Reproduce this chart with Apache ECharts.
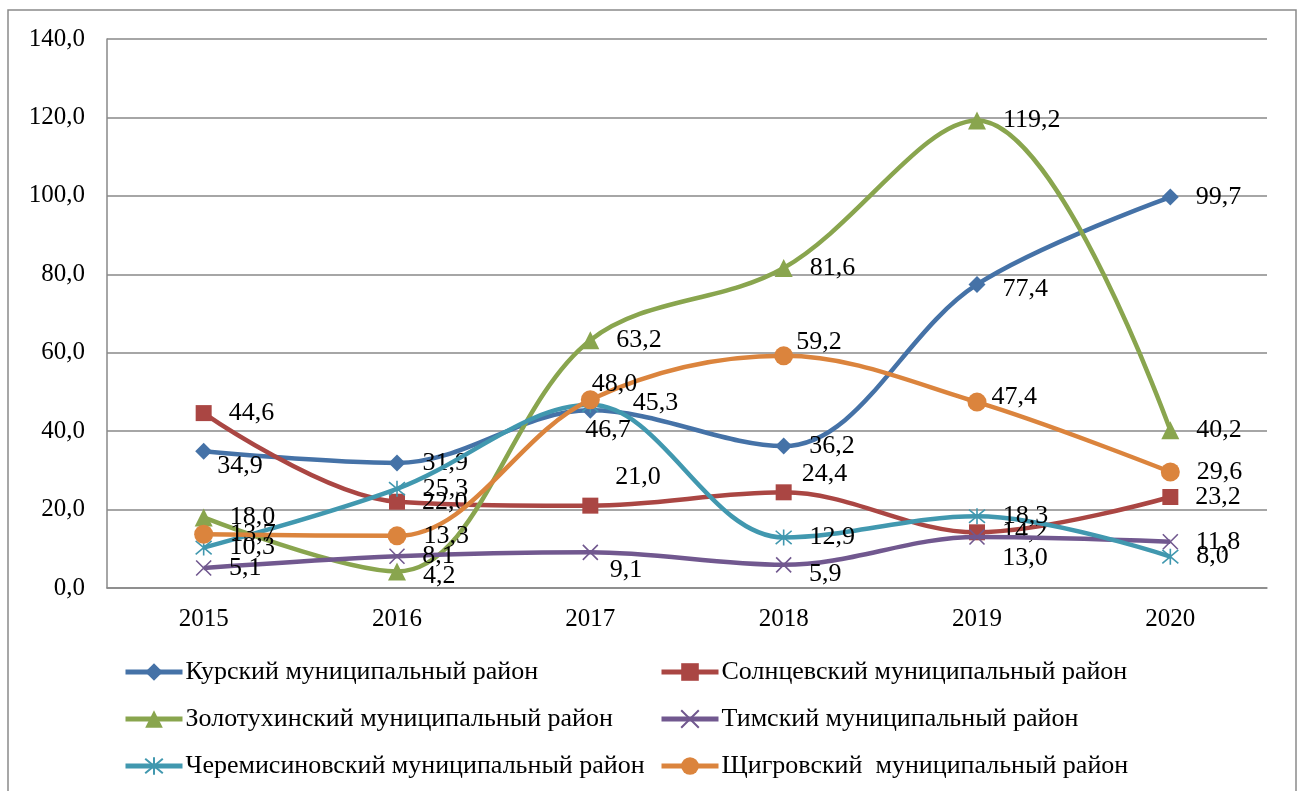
<!DOCTYPE html>
<html>
<head>
<meta charset="utf-8">
<script src="https://cdn.jsdelivr.net/npm/echarts@6/dist/echarts.min.js"></script>
<style>
  html, body { margin: 0; padding: 0; background: #fff; }
  #chart { width: 1304px; height: 791px; }
</style>
</head>
<body>
<div id="chart"></div>
<script>
// Years on the horizontal axis
var years = ['2015', '2016', '2017', '2018', '2019', '2020'];

// District names
var names = [
  'Курский муниципальный район',
  'Солнцевский муниципальный район',
  'Золотухинский муниципальный район',
  'Тимский муниципальный район',
  'Черемисиновский муниципальный район',
  'Щигровский  муниципальный район'
];

// Values per district
var kursky = [34.9, 31.9, 45.3, 36.2, 77.4, 99.7];
var solntsevsky = [44.6, 22.0, 21.0, 24.4, 14.2, 23.2];
var zolotukhinsky = [18.0, 4.2, 63.2, 81.6, 119.2, 40.2];
var timsky = [5.1, 8.1, 9.1, 5.9, 13.0, 11.8];
var cheremisinovsky = [10.3, 25.3, 46.7, 12.9, 18.3, 8.0];
var shchigrovsky = [13.7, 13.3, 48.0, 59.2, 47.4, 29.6];

// Y axis range
var yMin = 0, yMax = 140, yStep = 20;

var seriesValues = [kursky, solntsevsky, zolotukhinsky, timsky, cheremisinovsky, shchigrovsky];
var colors = ['#4572A7', '#AA4643', '#89A54E', '#71588F', '#4198AF', '#DB843D'];

var crossPath = 'path://M0,0L10,10M10,0L0,10';
var starPath = 'path://M0,0L10,10M10,0L0,10M5,-1L5,11';
var symbols = ['diamond', 'rect', 'triangle', crossPath, starPath, 'circle'];
var symbolSizes = [17, 16, 18, 15, 16, 19];

// Label nudges [dx, dy] where labels would collide: key "series:point"
var labelNudge = {
  '0:0': [-12, 15],
  '0:2': [17, -7],
  '0:4': [0, 5],
  '1:2': [0, -28],
  '1:3': [-7, -18],
  '2:1': [0, 5],
  '3:2': [-6, 18],
  '3:3': [0, 9],
  '3:4': [0, 21],
  '4:2': [-31, 25],
  '5:2': [-25, -16],
  '5:3': [-14, -14],
  '5:4': [-12, -5]
};

function fmt(v) { return v.toFixed(1).replace('.', ','); }

var FONT = '"Liberation Serif", "Times New Roman", serif';

var series = seriesValues.map(function (vals, si) {
  var isStroke = si === 3 || si === 4;
  return {
    name: names[si],
    type: 'line',
    smooth: 0.35,
    data: vals.map(function (v, pi) {
      var d = { value: v };
      var n = labelNudge[si + ':' + pi];
      if (n) d.label = { offset: n };
      return d;
    }),
    symbol: symbols[si],
    symbolSize: symbolSizes[si],
    lineStyle: { width: 4.5, color: colors[si] },
    itemStyle: isStroke
      ? { color: 'rgba(0,0,0,0)', borderColor: colors[si], borderWidth: 1.6 }
      : { color: colors[si], borderColor: colors[si], borderWidth: 0 },
    label: {
      show: true,
      position: 'right',
      distance: 17,
      color: '#000',
      fontFamily: FONT,
      fontSize: 26,
      formatter: function (p) { return fmt(p.value); }
    },
    z: 2 + si
  };
});

var chart = echarts.init(document.getElementById('chart'), null, { renderer: 'canvas' });

var legendCommon = {
  orient: 'vertical',
  padding: 0,
  itemWidth: 57,
  itemHeight: 22,
  itemGap: 21,
  lineStyle: { width: 5 },
  textStyle: { fontFamily: FONT, fontSize: 26, lineHeight: 26, color: '#000', padding: [0, 0, 0, -2] }
};

chart.setOption({
  animation: false,
  backgroundColor: '#fff',
  color: colors,
  grid: { left: 107, top: 39, right: 37, bottom: 203, containLabel: false },
  xAxis: {
    type: 'category',
    data: years,
    boundaryGap: true,
    axisLine: { lineStyle: { color: '#888', width: 1.5 } },
    axisTick: { show: false },
    axisLabel: { color: '#000', fontFamily: FONT, fontSize: 25, margin: 19 },
    splitLine: { show: false }
  },
  yAxis: {
    type: 'value',
    min: yMin,
    max: yMax,
    interval: yStep,
    axisLine: { show: true, lineStyle: { color: '#888', width: 1.5 } },
    axisTick: { show: false },
    axisLabel: {
      color: '#000', fontFamily: FONT, fontSize: 25, margin: 22,
      formatter: function (v) { return fmt(v); }
    },
    splitLine: { show: true, lineStyle: { color: '#888', width: 1.5 } }
  },
  legend: [
    Object.assign({}, legendCommon, {
      left: 123, top: 659,
      data: [names[0], names[2], names[4]]
    }),
    Object.assign({}, legendCommon, {
      left: 659, top: 659,
      data: [names[1], names[3], names[5]]
    })
  ],
  graphic: [{
    type: 'rect',
    shape: { x: 8, y: 10, width: 1288, height: 800 },
    style: { fill: null, stroke: '#8a8a8a', lineWidth: 1.5 },
    silent: true,
    z: -1
  }],
  series: series
});
</script>
</body>
</html>
